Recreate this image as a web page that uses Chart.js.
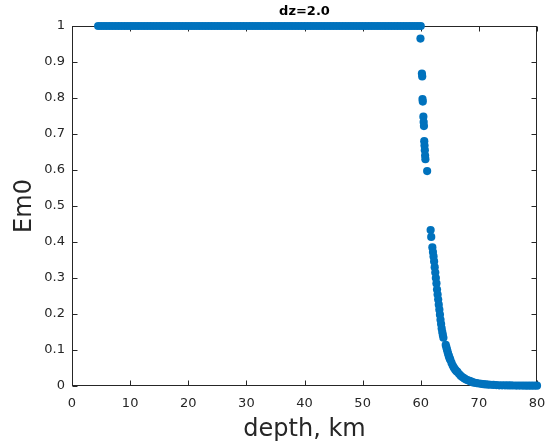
<!DOCTYPE html>
<html><head><meta charset="utf-8">
<script src="https://cdn.jsdelivr.net/npm/chart.js@4/dist/chart.umd.min.js"></script>
<style>html,body{margin:0;padding:0;background:#fff}canvas{display:block}</style>
</head><body>
<canvas id="c" width="545" height="445"></canvas>
<script>
const titleText = 'dz=2.0';
const xLabel = 'depth, km';
const yLabel = 'Em0';
const xTicks = [0, 10, 20, 30, 40, 50, 60, 70, 80];
const yTicks = [0, 0.1, 0.2, 0.3, 0.4, 0.5, 0.6, 0.7, 0.8, 0.9, 1];
const yTickLabels = ['0', '0.1', '0.2', '0.3', '0.4', '0.5', '0.6', '0.7', '0.8', '0.9', '1'];

const plateauDepth = [
  4.5, 5, 5.5, 6, 6.5, 7, 7.5, 8, 8.5, 9, 9.5, 10, 10.5, 11, 11.5, 12,
  12.5, 13, 13.5, 14, 14.5, 15, 15.5, 16, 16.5, 17, 17.5, 18, 18.5, 19, 19.5, 20,
  20.5, 21, 21.5, 22, 22.5, 23, 23.5, 24, 24.5, 25, 25.5, 26, 26.5, 27, 27.5, 28,
  28.5, 29, 29.5, 30, 30.5, 31, 31.5, 32, 32.5, 33, 33.5, 34, 34.5, 35, 35.5, 36,
  36.5, 37, 37.5, 38, 38.5, 39, 39.5, 40, 40.5, 41, 41.5, 42, 42.5, 43, 43.5, 44,
  44.5, 45, 45.5, 46, 46.5, 47, 47.5, 48, 48.5, 49, 49.5, 50, 50.5, 51, 51.5, 52,
  52.5, 53, 53.5, 54, 54.5, 55, 55.5, 56, 56.5, 57, 57.5, 58, 58.5, 59, 59.5, 60
];
const plateauEm0 = [
  1, 1, 1, 1, 1, 1, 1, 1, 1, 1, 1, 1, 1, 1, 1, 1,
  1, 1, 1, 1, 1, 1, 1, 1, 1, 1, 1, 1, 1, 1, 1, 1,
  1, 1, 1, 1, 1, 1, 1, 1, 1, 1, 1, 1, 1, 1, 1, 1,
  1, 1, 1, 1, 1, 1, 1, 1, 1, 1, 1, 1, 1, 1, 1, 1,
  1, 1, 1, 1, 1, 1, 1, 1, 1, 1, 1, 1, 1, 1, 1, 1,
  1, 1, 1, 1, 1, 1, 1, 1, 1, 1, 1, 1, 1, 1, 1, 1,
  1, 1, 1, 1, 1, 1, 1, 1, 1, 1, 1, 1, 1, 1, 1, 1
];
const dropDepth = [59.95, 60.2, 60.25, 60.3, 60.35, 60.45, 60.5, 60.55, 60.6, 60.65, 60.7, 60.75, 60.8, 61.1];
const dropEm0 = [0.965, 0.868, 0.860, 0.797, 0.790, 0.748, 0.733, 0.722, 0.680, 0.668, 0.655, 0.640, 0.630, 0.597];
const tailDepth = [
  61.7, 61.8, 62.0, 62.1, 62.2, 62.3, 62.4, 62.5, 62.6, 62.7, 62.8, 62.9, 63.0, 63.1, 63.2, 63.3,
  63.4, 63.5, 63.6, 63.7, 63.8, 63.9,
  64.3, 64.4, 64.5, 64.6, 64.7, 64.8, 64.9, 65.0, 65.1, 65.3, 65.5, 65.7, 65.9, 66.1, 66.3, 66.6,
  66.9, 67.2, 67.5, 67.8, 68.1, 68.4, 68.7, 69.0, 69.3, 69.6, 70.0, 70.4, 70.8, 71.2, 71.6, 72.0,
  72.5, 73.0, 73.5, 74.0, 74.5, 75.0, 75.5, 76.0, 76.5, 77.0, 77.5, 78.0, 78.5, 79.0, 79.5, 80.0
];
const tailEm0 = [
  0.433, 0.414, 0.385, 0.372, 0.360, 0.346, 0.330, 0.315, 0.300, 0.285, 0.268, 0.254, 0.240, 0.226, 0.212, 0.198,
  0.184, 0.172, 0.160, 0.150, 0.142, 0.134,
  0.114, 0.108, 0.102, 0.096, 0.090, 0.085, 0.080, 0.076, 0.072, 0.064, 0.057, 0.051, 0.046, 0.042, 0.039, 0.033,
  0.028, 0.024, 0.021, 0.018, 0.016, 0.014, 0.012, 0.010, 0.009, 0.008, 0.007, 0.006, 0.005, 0.0045, 0.004, 0.0035,
  0.003, 0.0025, 0.002, 0.002, 0.0018, 0.0016, 0.0015, 0.0014, 0.0013, 0.0012, 0.0011, 0.001, 0.001, 0.001, 0.001, 0.001
];

const depth = plateauDepth.concat(dropDepth, tailDepth);
const em0 = plateauEm0.concat(dropEm0, tailEm0);
const points = depth.map((d, i) => ({x: d, y: em0[i]}));

const FONT = '"DejaVu Sans", Verdana, sans-serif';
const AXIS = '#262626';

const boxPlugin = {
  id: 'box',
  beforeDatasetsDraw(chart) {
    const {ctx, chartArea: a, scales: {x, y}} = chart;
    ctx.save();
    ctx.strokeStyle = AXIS;
    ctx.lineWidth = 1;
    const L = Math.round(a.left) + 0.5, R = Math.round(a.right) - 0.5;
    const T = Math.round(a.top) + 0.5, B = Math.round(a.bottom) - 0.5;
    ctx.strokeRect(L, T, R - L, B - T);
    const tl = 5;
    ctx.beginPath();
    xTicks.forEach(v => {
      const px = Math.round(x.getPixelForValue(v)) + 0.5;
      ctx.moveTo(px, B); ctx.lineTo(px, B - tl);
      ctx.moveTo(px, T); ctx.lineTo(px, T + tl);
    });
    yTicks.forEach(v => {
      const py = Math.round(y.getPixelForValue(v)) + 0.5;
      ctx.moveTo(L, py); ctx.lineTo(L + tl, py);
      ctx.moveTo(R, py); ctx.lineTo(R - tl, py);
    });
    ctx.stroke();
    ctx.fillStyle = '#000';
    ctx.font = 'bold 13px ' + FONT;
    ctx.textAlign = 'center';
    ctx.textBaseline = 'middle';
    ctx.fillText(titleText, (a.left + a.right) / 2, 12);
    ctx.restore();
  }
};

new Chart(document.getElementById('c'), {
  type: 'scatter',
  data: {
    datasets: [{
      data: points,
      pointRadius: 4.1,
      pointHoverRadius: 4.1,
      backgroundColor: '#0072BD',
      borderWidth: 0,
      showLine: false,
      clip: false
    }]
  },
  plugins: [boxPlugin],
  options: {
    responsive: false,
    devicePixelRatio: 1,
    animation: false,
    events: [],
    layout: {padding: {left: 0, right: 8, top: 26, bottom: 0}},
    plugins: {legend: {display: false}, tooltip: {enabled: false}, title: {display: false}},
    scales: {
      x: {
        type: 'linear', min: 0, max: 80,
        afterBuildTicks(s) { s.ticks = xTicks.map(v => ({value: v})); },
        afterFit(s) { s.height = 59; s.paddingLeft = 0; s.paddingRight = 0; },
        ticks: {font: {family: FONT, size: 13}, color: AXIS, padding: 10, maxRotation: 0, autoSkip: false},
        grid: {display: false, drawTicks: false},
        border: {display: false},
        title: {display: true, text: xLabel, color: AXIS, font: {family: FONT, size: 24}, padding: {top: 0, bottom: 1}}
      },
      y: {
        type: 'linear', min: 0, max: 1,
        afterBuildTicks(s) { s.ticks = yTicks.map(v => ({value: v})); },
        afterFit(s) { s.width = 72; s.paddingTop = 0; s.paddingBottom = 0; },
        ticks: {font: {family: FONT, size: 13}, color: AXIS, padding: 7, autoSkip: false,
          callback: (v, i) => yTickLabels[i]},
        grid: {display: false, drawTicks: false},
        border: {display: false},
        title: {display: true, text: yLabel, color: AXIS, font: {family: FONT, size: 24}, padding: {top: 10, bottom: 0}}
      }
    }
  }
});
</script>
</body></html>
